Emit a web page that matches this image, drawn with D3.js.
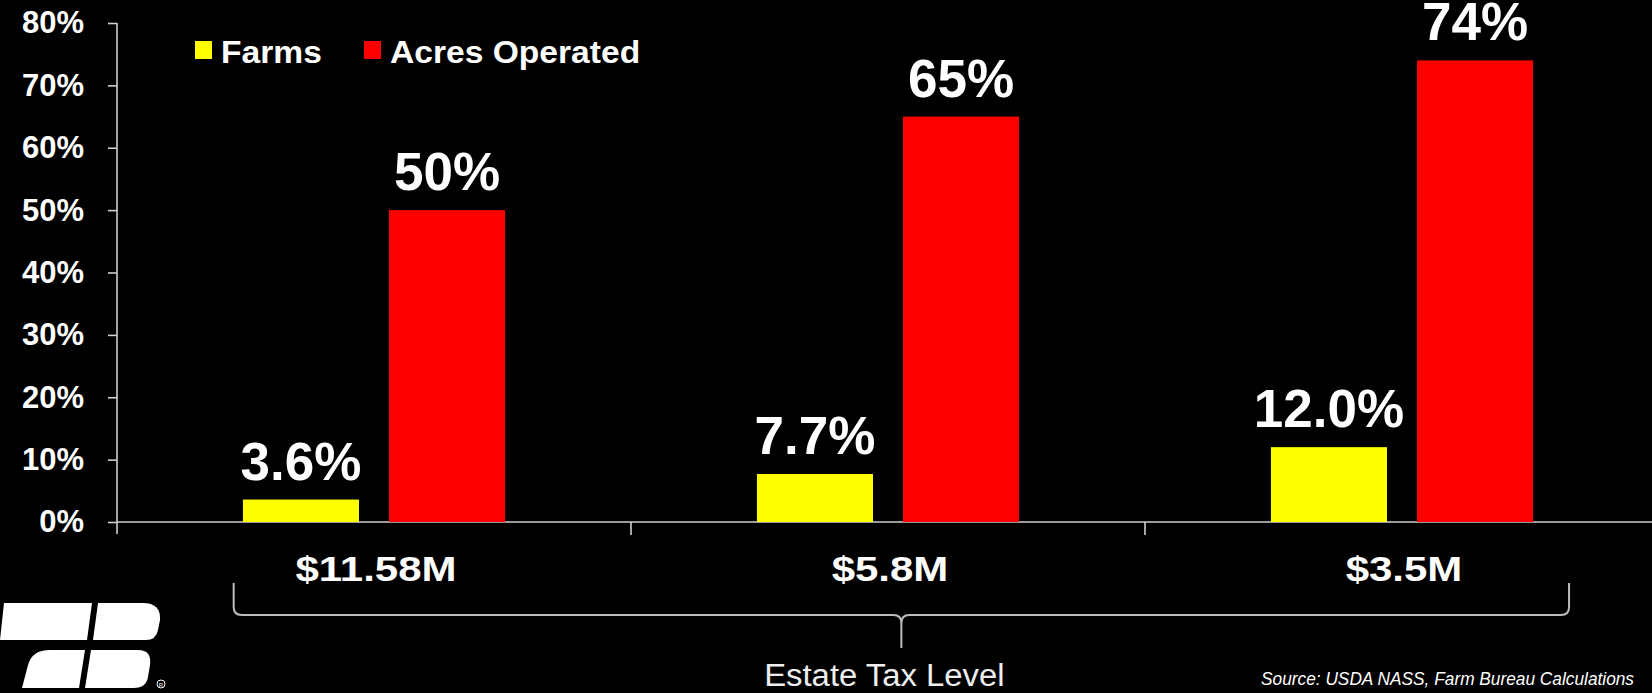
<!DOCTYPE html>
<html>
<head>
<meta charset="utf-8">
<script src="https://cdn.jsdelivr.net/npm/d3@7"></script>
<style>
	body { margin: 0; background: #000; overflow: hidden; }
	text { font-family: "Liberation Sans", Arial, sans-serif; }
</style>
</head>
<body>
<div id="idContent"></div>
<script>
var aCategories = ["$11.58M", "$5.8M", "$3.5M"],
	aSeries = ["Farms", "Acres Operated"],
	aFarms = [3.6, 7.7, 12.0],
	aAcres = [50, 65, 74],
	aFarmLabels = ["3.6%", "7.7%", "12.0%"],
	aAcreLabels = ["50%", "65%", "74%"],
	aYTicks = [0, 10, 20, 30, 40, 50, 60, 70, 80],
	aColors = ["#ffff00", "#ff0000"];

var sAxisTitle = "Estate Tax Level",
	sSource = "Source: USDA NASS, Farm Bureau Calculations";

var iWidth = 1652,
	iHeight = 693;

function configureDataset() {
	var oDataset = [];
	aCategories.forEach(function (category, i) {
		oDataset.push({
			category: category,
			bars: [
				{ series: aSeries[0], value: aFarms[i], label: aFarmLabels[i] },
				{ series: aSeries[1], value: aAcres[i], label: aAcreLabels[i] }
			]
		});
	});
	return oDataset;
}

function createGraph() {
	var oDataset = configureDataset();

	var oSvg = d3.select("#idContent").append("svg")
		.attr("width", iWidth)
		.attr("height", iHeight)
		.style("background", "#000");

	var x0 = d3.scaleBand().domain(aCategories).range([117, 1659]);
	var bw = x0.bandwidth();
	var x1 = d3.scaleBand().domain(aSeries)
		.range([bw * 0.245, bw * 0.755])
		.paddingInner(30 / 146);
	var y = d3.scaleLinear().domain([0, 80]).range([522, 23]);
	var color = d3.scaleOrdinal().domain(aSeries).range(aColors);

	// y axis
	var oYAxis = oSvg.append("g")
		.attr("transform", "translate(117,0)")
		.call(d3.axisLeft(y)
			.tickValues(aYTicks)
			.tickSize(9)
			.tickSizeOuter(0)
			.tickPadding(24)
			.tickFormat(function (d) { return d + "%"; }));
	oYAxis.select(".domain").remove();
	oYAxis.selectAll(".tick line").attr("stroke", "#cfcfcf").attr("stroke-width", 1.6);
	oYAxis.selectAll(".tick text")
		.attr("fill", "#fff")
		.style("font-size", "31px")
		.style("font-weight", "bold");
	oSvg.append("line")
		.attr("x1", 117).attr("x2", 117)
		.attr("y1", y(80)).attr("y2", y(0) + 12)
		.attr("stroke", "#cfcfcf").attr("stroke-width", 1.6);

	// x axis
	oSvg.append("line")
		.attr("x1", 117).attr("x2", iWidth)
		.attr("y1", y(0)).attr("y2", y(0))
		.attr("stroke", "#cfcfcf").attr("stroke-width", 1.6);
	oSvg.selectAll(".xtick")
		.data(aCategories.slice(1))
		.enter().append("line")
		.attr("class", "xtick")
		.attr("x1", function (d) { return x0(d); })
		.attr("x2", function (d) { return x0(d); })
		.attr("y1", y(0)).attr("y2", y(0) + 13)
		.attr("stroke", "#cfcfcf").attr("stroke-width", 1.6);

	// bars
	var oGroups = oSvg.selectAll(".group")
		.data(oDataset)
		.enter().append("g")
		.attr("class", "group")
		.attr("transform", function (d) { return "translate(" + x0(d.category) + ",0)"; });

	oGroups.selectAll(".bar")
		.data(function (d) { return d.bars; })
		.enter().append("rect")
		.attr("class", "bar")
		.attr("x", function (d) { return x1(d.series); })
		.attr("y", function (d) { return y(d.value); })
		.attr("width", x1.bandwidth())
		.attr("height", function (d) { return y(0) - y(d.value); })
		.attr("fill", function (d) { return color(d.series); });

	oGroups.selectAll(".value")
		.data(function (d) { return d.bars; })
		.enter().append("text")
		.attr("class", "value")
		.attr("x", function (d) { return x1(d.series) + x1.bandwidth() / 2; })
		.attr("y", function (d) { return y(d.value) - 20; })
		.attr("text-anchor", "middle")
		.attr("fill", "#fff")
		.style("font-size", "53px")
		.style("font-weight", "bold")
		.text(function (d) { return d.label; });

	// category labels (stretched a little to match the wide lettering)
	oSvg.selectAll(".catLabel")
		.data(aCategories)
		.enter().append("text")
		.attr("class", "catLabel")
		.attr("transform", function (d) { return "translate(" + (x0(d) + bw / 2 + 2) + ",581) scale(1.2,1)"; })
		.attr("text-anchor", "middle")
		.attr("fill", "#fff")
		.style("font-size", "35px")
		.style("font-weight", "bold")
		.text(function (d) { return d; });

	// brace under the categories
	var xl = x0(aCategories[0]) + bw * 0.227,
		xr = x0(aCategories[aCategories.length - 1]) + bw * 0.825,
		xm = (xl + xr) / 2,
		yTop = 583, yMid = 615, yTip = 648, r = 8;
	var oPath = d3.path();
	oPath.moveTo(xl, yTop);
	oPath.lineTo(xl, yMid - r);
	oPath.quadraticCurveTo(xl, yMid, xl + r, yMid);
	oPath.lineTo(xm - r, yMid);
	oPath.quadraticCurveTo(xm, yMid, xm, yMid + r);
	oPath.lineTo(xm, yTip);
	oPath.moveTo(xm, yMid + r);
	oPath.quadraticCurveTo(xm, yMid, xm + r, yMid);
	oPath.lineTo(xr - r, yMid);
	oPath.quadraticCurveTo(xr, yMid, xr, yMid - r);
	oPath.lineTo(xr, yTop);
	oSvg.append("path")
		.attr("d", oPath.toString())
		.attr("fill", "none")
		.attr("stroke", "#bdbdbd")
		.attr("stroke-width", 2);

	oSvg.append("text")
		.attr("transform", "translate(" + (xm - 17) + ",686) scale(1.06,1)")
		.attr("text-anchor", "middle")
		.attr("fill", "#eee")
		.style("font-size", "31px")
		.text(sAxisTitle);

	oSvg.append("text")
		.attr("transform", "translate(1634,685) scale(0.91,1)")
		.attr("text-anchor", "end")
		.attr("fill", "#fff")
		.style("font-size", "19px")
		.style("font-style", "italic")
		.text(sSource);

	// legend
	var aLegendX = [195, 364];
	var oLegend = oSvg.selectAll(".legend")
		.data(aSeries)
		.enter().append("g")
		.attr("class", "legend")
		.attr("transform", function (d, i) { return "translate(" + aLegendX[i] + ",0)"; });
	oLegend.append("rect")
		.attr("x", 0).attr("y", 41)
		.attr("width", 17).attr("height", 18)
		.attr("fill", function (d) { return color(d); });
	oLegend.append("text")
		.attr("transform", "translate(26,63) scale(1.05,1)")
		.attr("fill", "#fff")
		.style("font-size", "32px")
		.style("font-weight", "bold")
		.text(function (d) { return d; });

	drawLogo(oSvg);
}

function drawLogo(oSvg) {
	var oLogo = oSvg.append("g").attr("fill", "#fff");
	// F upper bar
	oLogo.append("path").attr("d", "M4,603 L92,603 L87,640 L0,640 Z");
	// B upper lobe
	oLogo.append("path").attr("d", "M98,603 L143,603 Q161,603 160,620 L158,630 Q156,640 146,640 L93,640 Z");
	// F stem
	oLogo.append("path").attr("d", "M85,650 L79,688 L22,688 L28,665 Q32,650 50,650 Z");
	// B lower lobe
	oLogo.append("path").attr("d", "M91,650 L138,650 Q152,650 150,665 L148,677 Q146,688 134,688 L85,688 Z");
	oLogo.append("circle")
		.attr("cx", 161).attr("cy", 684).attr("r", 4)
		.attr("fill", "none").attr("stroke", "#fff").attr("stroke-width", 1);
	oLogo.append("text")
		.attr("x", 161).attr("y", 686.5)
		.attr("text-anchor", "middle")
		.style("font-size", "6px")
		.text("R");
}

createGraph();
</script>
</body>
</html>
